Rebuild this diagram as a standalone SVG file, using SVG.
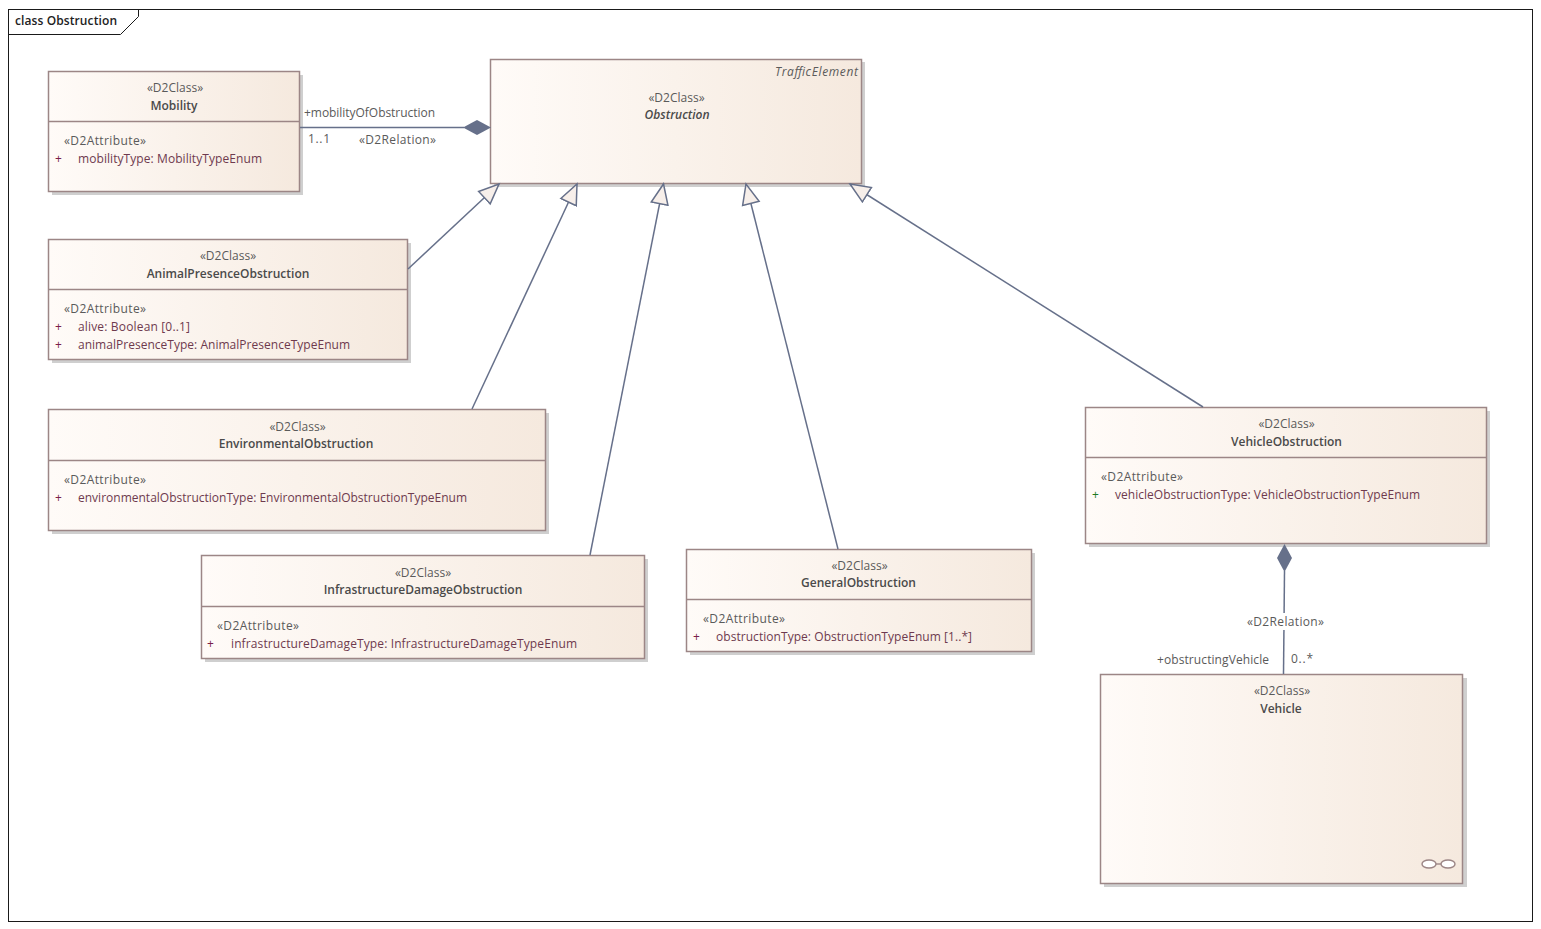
<svg xmlns="http://www.w3.org/2000/svg" width="1541" height="929" viewBox="0 0 1541 929">
<style>
text{font-family:"Open Sans","Noto Sans","Liberation Sans",sans-serif;font-size:12px;fill:#5a5a5a}
.m{text-anchor:middle}
.b{font-weight:600;fill:#4a4a4a}
.p{fill:#7a1f4a}
.a{fill:#6e3a4e}
.g{fill:#1f7a1f}
.box{fill:url(#grad);stroke:#9c8686;stroke-width:1.5}
.sh{fill:#cfcfcf}
.sep{stroke:#9c8686;stroke-width:1.5}
.c{fill:none;stroke:#66708a;stroke-width:1.5}
</style>
<defs>
<linearGradient id="grad" x1="0" y1="0" x2="1" y2="0"><stop offset="0" stop-color="#fffbf8"/><stop offset="1" stop-color="#f5e9de"/></linearGradient>
<marker id="tri" markerUnits="userSpaceOnUse" markerWidth="24" markerHeight="22" refX="21" refY="11" orient="auto"><path d="M1 2.500L21 11L1 19.500Z" fill="#f7efea" stroke="#66708a" stroke-width="1.5"/></marker>
</defs>
<rect width="1541" height="929" fill="#fff"/>
<g id="frame">
<rect x="8.500" y="9.500" width="1524" height="912" fill="none" stroke="#1a1a1a" stroke-width="1"/>
<path d="M8.500 34.500H120.500L138.500 16.500V9.500" fill="none" stroke="#1a1a1a" stroke-width="1"/>
<text x="15" y="25" textLength="102" style="fill:#222;font-weight:600">class Obstruction</text>
</g>
<g id="Obstruction">
<rect class="sh" x="494" y="62" width="371" height="125"/>
<rect class="box" x="490.500" y="59.500" width="371" height="124"/>
<text x="775" y="76" textLength="83" font-style="italic">TrafficElement</text>
<text class="m" x="676.500" y="102">«D2Class»</text>
<text class="m b" x="677" y="119" font-style="italic">Obstruction</text>
</g>
<g id="Mobility">
<rect class="sh" x="52" y="75" width="251" height="120"/>
<rect class="box" x="48.500" y="71.500" width="251" height="120"/>
<line class="sep" x1="48.500" y1="121.500" x2="299.500" y2="121.500"/>
<text class="m" x="175" y="92">«D2Class»</text>
<text class="m b" x="174" y="110">Mobility</text>
<text x="64" y="145" textLength="82">«D2Attribute»</text>
<text class="p" x="55" y="163">+</text>
<text class="a" x="78" y="163" textLength="184">mobilityType: MobilityTypeEnum</text>
</g>
<g id="AnimalPresenceObstruction">
<rect class="sh" x="52" y="243" width="359" height="120"/>
<rect class="box" x="48.500" y="239.500" width="359" height="120"/>
<line class="sep" x1="48.500" y1="289.500" x2="407.500" y2="289.500"/>
<text class="m" x="228" y="260">«D2Class»</text>
<text class="m b" x="228" y="278">AnimalPresenceObstruction</text>
<text x="64" y="313" textLength="82">«D2Attribute»</text>
<text class="p" x="55" y="331">+</text>
<text class="a" x="78" y="331" textLength="112">alive: Boolean [0..1]</text>
<text class="p" x="55" y="349">+</text>
<text class="a" x="78" y="349" textLength="272">animalPresenceType: AnimalPresenceTypeEnum</text>
</g>
<g id="EnvironmentalObstruction">
<rect class="sh" x="52" y="413" width="497" height="121"/>
<rect class="box" x="48.500" y="409.500" width="497" height="121"/>
<line class="sep" x1="48.500" y1="460.500" x2="545.500" y2="460.500"/>
<text class="m" x="297.500" y="431">«D2Class»</text>
<text class="m b" x="296" y="448">EnvironmentalObstruction</text>
<text x="64" y="484" textLength="82">«D2Attribute»</text>
<text class="p" x="55" y="502">+</text>
<text class="a" x="78" y="502" textLength="389">environmentalObstructionType: EnvironmentalObstructionTypeEnum</text>
</g>
<g id="InfrastructureDamageObstruction">
<rect class="sh" x="205" y="559" width="443" height="103"/>
<rect class="box" x="201.500" y="555.500" width="443" height="103"/>
<line class="sep" x1="201.500" y1="606.500" x2="644.500" y2="606.500"/>
<text class="m" x="423" y="577">«D2Class»</text>
<text class="m b" x="423" y="594">InfrastructureDamageObstruction</text>
<text x="217" y="630" textLength="82">«D2Attribute»</text>
<text class="p" x="207" y="648">+</text>
<text class="a" x="231" y="648" textLength="346">infrastructureDamageType: InfrastructureDamageTypeEnum</text>
</g>
<g id="GeneralObstruction">
<rect class="sh" x="690" y="553" width="345" height="102"/>
<rect class="box" x="686.500" y="549.500" width="345" height="102"/>
<line class="sep" x1="686.500" y1="599.500" x2="1031.500" y2="599.500"/>
<text class="m" x="859.500" y="570">«D2Class»</text>
<text class="m b" x="858.500" y="587">GeneralObstruction</text>
<text x="703" y="623" textLength="82">«D2Attribute»</text>
<text class="p" x="693" y="641">+</text>
<text class="a" x="716" y="641" textLength="256">obstructionType: ObstructionTypeEnum [1..*]</text>
</g>
<g id="VehicleObstruction">
<rect class="sh" x="1089" y="411" width="401" height="136"/>
<rect class="box" x="1085.500" y="407.500" width="401" height="136"/>
<line class="sep" x1="1085.500" y1="457.500" x2="1486.500" y2="457.500"/>
<text class="m" x="1286.500" y="428">«D2Class»</text>
<text class="m b" x="1286.500" y="446">VehicleObstruction</text>
<text x="1101" y="481" textLength="82">«D2Attribute»</text>
<text class="g" x="1092" y="499">+</text>
<text class="a" x="1115" y="499" textLength="305">vehicleObstructionType: VehicleObstructionTypeEnum</text>
</g>
<g id="Vehicle">
<rect class="sh" x="1104" y="678" width="363" height="209"/>
<rect class="box" x="1100.500" y="674.500" width="362" height="209"/>
<text class="m" x="1282" y="695">«D2Class»</text>
<text class="m b" x="1281" y="713">Vehicle</text>
<g fill="#fff" stroke="#9c8686" stroke-width="1.4">
<line x1="1433" y1="864" x2="1443" y2="864"/>
<ellipse cx="1429" cy="864" rx="7" ry="4"/>
<ellipse cx="1448" cy="864" rx="7" ry="4"/>
</g>
</g>
<g id="connectors">
<line class="c" x1="300" y1="127.500" x2="464" y2="127.500"/>
<path d="M463 127.500L477 120L491 127.500L477 135Z" fill="#66708a"/>
<line class="c" x1="1284.500" y1="571" x2="1283.500" y2="674"/>
<path d="M1284.500 544L1292 558L1284.500 572L1277 558Z" fill="#66708a"/>
<line class="c" x1="408" y1="269" x2="499" y2="184" marker-end="url(#tri)"/>
<line class="c" x1="472" y1="409" x2="577" y2="184" marker-end="url(#tri)"/>
<line class="c" x1="590" y1="555" x2="663.500" y2="184" marker-end="url(#tri)"/>
<line class="c" x1="838" y1="549" x2="746" y2="184" marker-end="url(#tri)"/>
<line class="c" x1="1203" y1="407" x2="850" y2="184" marker-end="url(#tri)"/>
<rect x="1240" y="613" width="90" height="17" fill="#fff"/>
<text x="304" y="117" textLength="131">+mobilityOfObstruction</text>
<text x="308" y="143" textLength="22">1..1</text>
<text x="359" y="144" textLength="77">«D2Relation»</text>
<text x="1247" y="626" textLength="77">«D2Relation»</text>
<text x="1157" y="664" textLength="112">+obstructingVehicle</text>
<text x="1291" y="663" textLength="22">0..*</text>
</g>
</svg>
